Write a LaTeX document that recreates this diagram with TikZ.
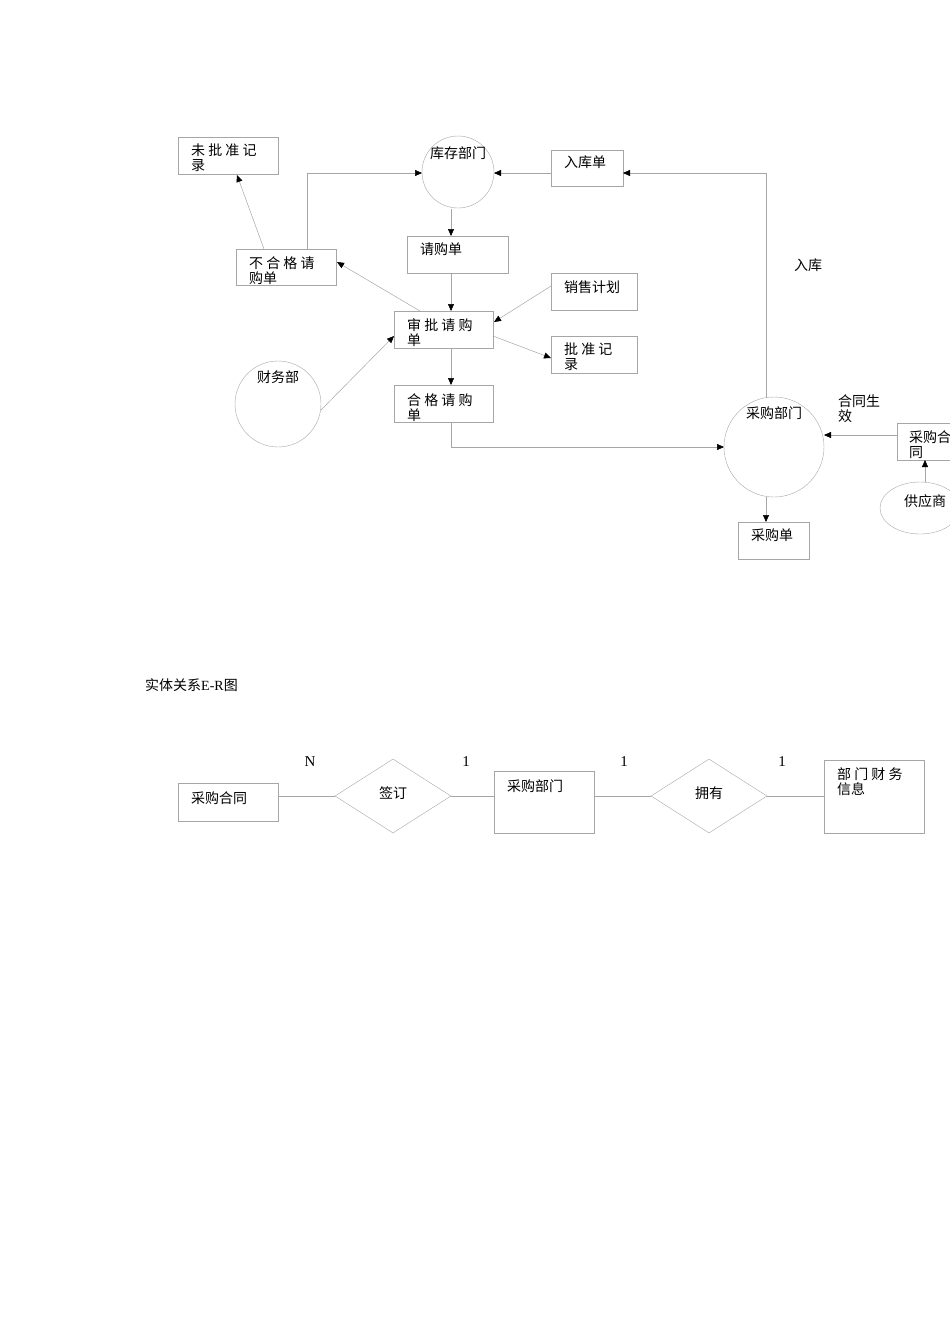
\documentclass[tikz,border=0pt]{standalone}
\usepackage{fontspec}
\setmainfont{Liberation Serif}
\newfontfamily\cjk{Noto Sans CJK SC}
\usetikzlibrary{shapes.geometric,arrows.meta}
\begin{document}
\begin{tikzpicture}[x=1pt,y=-1pt,
 bx/.style={draw=gray!70,line width=0.5pt,minimum width=#1,inner sep=0pt,anchor=north west},
 tx/.style={anchor=north west,font=\cjk\fontsize{14}{15}\selectfont,align=left,inner sep=0pt},
 ln/.style={draw=gray!70,line width=0.5pt},
 ar/.style={ln,-{Triangle[length=7pt,width=6pt,black]}},
 lb/.style={font=\cjk\fontsize{14}{15}\selectfont,inner sep=0pt}]
\useasboundingbox (0,0) rectangle (950,1344);
% boxes
\node[bx=100pt,minimum height=37pt] (wpz) at (178,137) {};
\node[tx] at (191,144) {未 批 准 记\\录};
\node[bx=72pt,minimum height=36pt] (rkd) at (551,150) {};
\node[tx] at (564,156) {入库单};
\node[bx=101pt,minimum height=37pt] (qgd) at (407,236) {};
\node[tx] at (420,243) {请购单};
\node[bx=100pt,minimum height=36pt] (bhg) at (236,249) {};
\node[tx] at (249,256) {不 合 格 请\\购单};
\node[bx=86pt,minimum height=37pt] (xsjh) at (551,273) {};
\node[tx] at (564,281) {销售计划};
\node[bx=99pt,minimum height=37pt] (sp) at (394,311) {};
\node[tx] at (407,318) {审 批 请 购\\单};
\node[bx=86pt,minimum height=37pt] (pzjl) at (551,336) {};
\node[tx] at (564,343) {批 准 记\\录};
\node[bx=99pt,minimum height=37pt] (hg) at (394,385) {};
\node[tx] at (407,393) {合 格 请 购\\单};
\node[bx=70pt,minimum height=37pt] (cgh) at (897,423) {};
\node[tx] at (909,430) {采购合\\同};
\node[bx=71pt,minimum height=37pt] (cgd) at (738,522) {};
\node[tx] at (751,529) {采购单};
% circles
\node[draw=gray!70,circle,minimum size=72pt,inner sep=0pt] (kc) at (458,172) {};
\node[lb] at (458,153) {库存部门};
\node[draw=gray!70,circle,minimum size=86pt,inner sep=0pt] (cw) at (278,404) {};
\node[lb] at (278,377) {财务部};
\node[draw=gray!70,circle,minimum size=100pt,inner sep=0pt] (cg) at (774,447) {};
\node[lb] at (774,413) {采购部门};
\node[draw=gray!70,ellipse,minimum width=80pt,minimum height=52pt,inner sep=0pt] (gys) at (920,508) {};
\node[lb] at (925,501) {供应商};
\node[lb] (rk) at (808,265) {入库};
\node[tx] (htsx) at (838,394) {合同生\\效};
% arrows
\coordinate (a1) at (264,249); \coordinate (a1e) at (237,175);
\draw[ar] (a1) -- (a1e);
\coordinate (a2) at (307,249); \coordinate (a2e) at (422,173);
\draw[ar] (a2) |- (a2e);
\coordinate (a3) at (551,173); \coordinate (a3e) at (494,173);
\draw[ar] (a3) -- (a3e);
\coordinate (a4) at (766,398); \coordinate (a4e) at (623,173);
\draw[ar] (a4) |- (a4e);
\coordinate (a5) at (451,209); \coordinate (a5e) at (451,236);
\draw[ar] (a5) -- (a5e);
\coordinate (a6) at (451,273); \coordinate (a6e) at (451,311);
\draw[ar] (a6) -- (a6e);
\coordinate (a7) at (420,311); \coordinate (a7e) at (337,262);
\draw[ar] (a7) -- (a7e);
\coordinate (a8) at (551,286); \coordinate (a8e) at (494,322);
\draw[ar] (a8) -- (a8e);
\coordinate (a9) at (493,336); \coordinate (a9e) at (551,358);
\draw[ar] (a9) -- (a9e);
\coordinate (a10) at (321,410); \coordinate (a10e) at (394,336);
\draw[ar] (a10) -- (a10e);
\coordinate (a11) at (451,348); \coordinate (a11e) at (451,385);
\draw[ar] (a11) -- (a11e);
\coordinate (a12) at (451,422); \coordinate (a12e) at (724,447);
\draw[ar] (a12) |- (a12e);
\coordinate (a13) at (897,435); \coordinate (a13e) at (824,435);
\draw[ar] (a13) -- (a13e);
\coordinate (a14) at (925,482); \coordinate (a14e) at (925,460);
\draw[ar] (a14) -- (a14e);
\coordinate (a15) at (766,497); \coordinate (a15e) at (766,522);
\draw[ar] (a15) -- (a15e);
% ER
\node[lb,anchor=west] (title) at (145,685) {实体关系\fontspec{Liberation Serif}E-R\cjk 图};
\node[bx=100pt,minimum height=38pt] (e1) at (178,783) {};
\node[tx] at (191,791) {采购合同};
\node[draw=gray!70,diamond,aspect=1.57,minimum width=116pt,minimum height=74pt,inner sep=0pt] (d1) at (393,796) {};
\node[lb] at (393,793) {签订};
\node[bx=100pt,minimum height=62pt] (e2) at (494,771) {};
\node[tx] at (507,779) {采购部门};
\node[draw=gray!70,diamond,aspect=1.57,minimum width=116pt,minimum height=74pt,inner sep=0pt] (d2) at (709,796) {};
\node[lb] at (709,793) {拥有};
\node[bx=100pt,minimum height=73pt] (e3) at (824,760) {};
\node[tx] at (837,767) {部 门 财 务\\信息};
\draw[ln] (e1.east |- d1) -- (d1.west);
\draw[ln] (d1.east) -- (e2.west |- d1);
\draw[ln] (e2.east |- d2) -- (d2.west);
\draw[ln] (d2.east) -- (e3.west |- d2);
\node[font=\fontsize{15}{16}\selectfont] (n1) at (310,762) {N};
\node[font=\fontsize{15}{16}\selectfont] (n2) at (466,762) {1};
\node[font=\fontsize{15}{16}\selectfont] (n3) at (624,762) {1};
\node[font=\fontsize{15}{16}\selectfont] (n4) at (782,762) {1};
\end{tikzpicture}
\end{document}
